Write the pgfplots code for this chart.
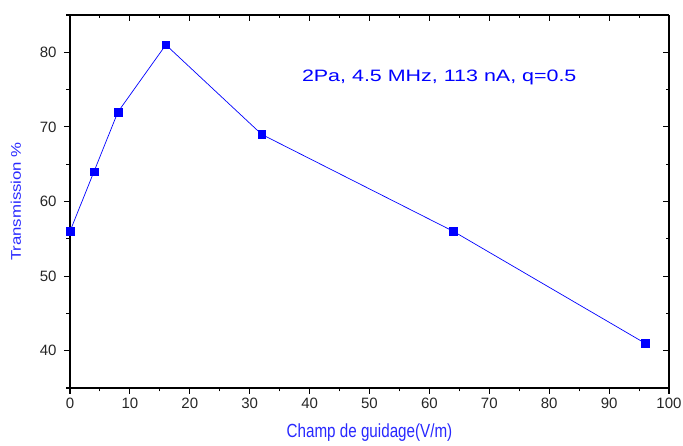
\documentclass[border=0pt]{standalone}
\usepackage{fontspec}
\setmainfont{Liberation Sans}
\usepackage{pgfplots}
\pgfplotsset{compat=1.18}
\definecolor{dblue}{RGB}{0,0,255}
\definecolor{lblue}{RGB}{40,40,255}
\pgfplotsset{common/.style={
  at={(0,0)}, anchor=south west,
  scale only axis,
  width=599pt, height=373pt,
  xmin=0, xmax=100, ymin=35, ymax=85,
  xtick={0,10,...,100}, ytick={40,50,...,80},
  minor xtick={5,15,...,95}, minor ytick={35,45,...,85},
  axis line style={line width=1.3pt, black},
  tick style={line width=1.1pt, black},
  major tick length=6pt, minor tick length=3.5pt,
}}
\begin{document}
\begin{tikzpicture}[x=1pt,y=1pt]
\path[use as bounding box] (-70,-58) rectangle (613,388);
\begin{axis}[
  common,
  axis x line*=top, axis y line*=right,
  tick align=inside,
  xticklabels={}, yticklabels={},
]
\end{axis}
\begin{axis}[
  common,
  axis x line*=bottom, axis y line*=left,
  tick align=outside,
  tick label style={font=\fontsize{15}{17}\selectfont, text=black!85},
  /pgf/number format/assume math mode=true,
  xticklabel style={yshift=0pt},
  yticklabel style={xshift=-4pt},
  xlabel={\scalebox{0.8}[1]{Champ de guidage(V/m)}},
  xlabel style={font=\fontsize{19}{21}\selectfont, text=lblue, yshift=-9pt},
  ylabel={\scalebox{1.2}[1]{Transmission \%}},
  ylabel style={font=\fontsize{14}{16}\selectfont, text=lblue, yshift=12pt},
  clip=false,
]
\addplot[color=dblue, line width=0.7pt, mark=square*, mark size=3.8pt, mark options={fill=dblue, draw=dblue, line width=0.3pt}]
coordinates {(0,56) (4,64) (8,72) (16,81) (32,69) (64,56) (96,41)};
\node[anchor=west, text=dblue, font=\fontsize{16.5}{18}\selectfont, inner sep=0pt] at (axis cs:38.7,76.6) {\scalebox{1.3}[1]{2Pa, 4.5 MHz, 113 nA, q=0.5}};
\end{axis}
\end{tikzpicture}
\end{document}
